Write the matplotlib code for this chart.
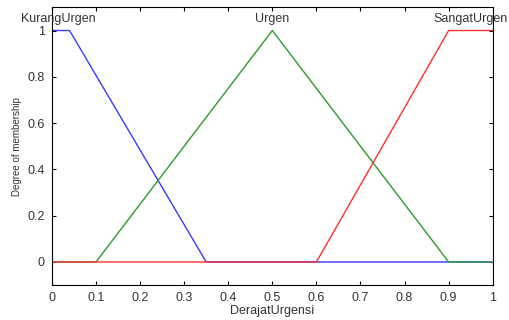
import matplotlib
matplotlib.use("Agg")
import matplotlib.pyplot as plt

x_kurang = [0, 0.04, 0.35, 1]
y_kurang = [1, 1, 0, 0]
x_urgen = [0, 0.1, 0.5, 0.9, 1]
y_urgen = [0, 0, 1, 0, 0]
x_sangat = [0, 0.6, 0.9, 1]
y_sangat = [0, 0, 1, 1]

labels = ["KurangUrgen", "Urgen", "SangatUrgen"]
label_x = [0.015, 0.5, 0.95]
xticks = [0, 0.1, 0.2, 0.3, 0.4, 0.5, 0.6, 0.7, 0.8, 0.9, 1]
yticks = [0, 0.2, 0.4, 0.6, 0.8, 1]

plt.rcParams['font.family'] = ['Liberation Sans', 'DejaVu Sans']
fig = plt.figure(figsize=(5.09, 3.2), dpi=100)
ax = fig.add_axes([0.102, 0.109, 0.866, 0.868])

ax.plot(x_kurang, y_kurang, color='#3a3aff', lw=1.0)
ax.plot(x_urgen, y_urgen, color='#2f9a2f', lw=1.0)
ax.plot(x_sangat, y_sangat, color='#ff3030', lw=1.0)

for lx, lab in zip(label_x, labels):
    ax.text(lx, 1.05, lab, ha='center', va='center', fontsize=9, color='#333333')

ax.set_xlim(0, 1)
ax.set_ylim(-0.1, 1.1)
ax.set_xticks(xticks)
ax.set_xticklabels([f"{t:g}" for t in xticks])
ax.set_yticks(yticks)
ax.set_yticklabels([f"{t:g}" for t in yticks])
ax.tick_params(direction='in', length=3, top=True, right=True, labelsize=9,
               width=0.8, pad=5, labelcolor='#333333')
for s in ax.spines.values():
    s.set_linewidth(0.8)
ax.set_xlabel("DerajatUrgensi", fontsize=9, labelpad=1, color='#333333')
ax.set_ylabel("Degree of membership", fontsize=7, labelpad=4, color='#333333')

fig.savefig("out.png", dpi=100)
